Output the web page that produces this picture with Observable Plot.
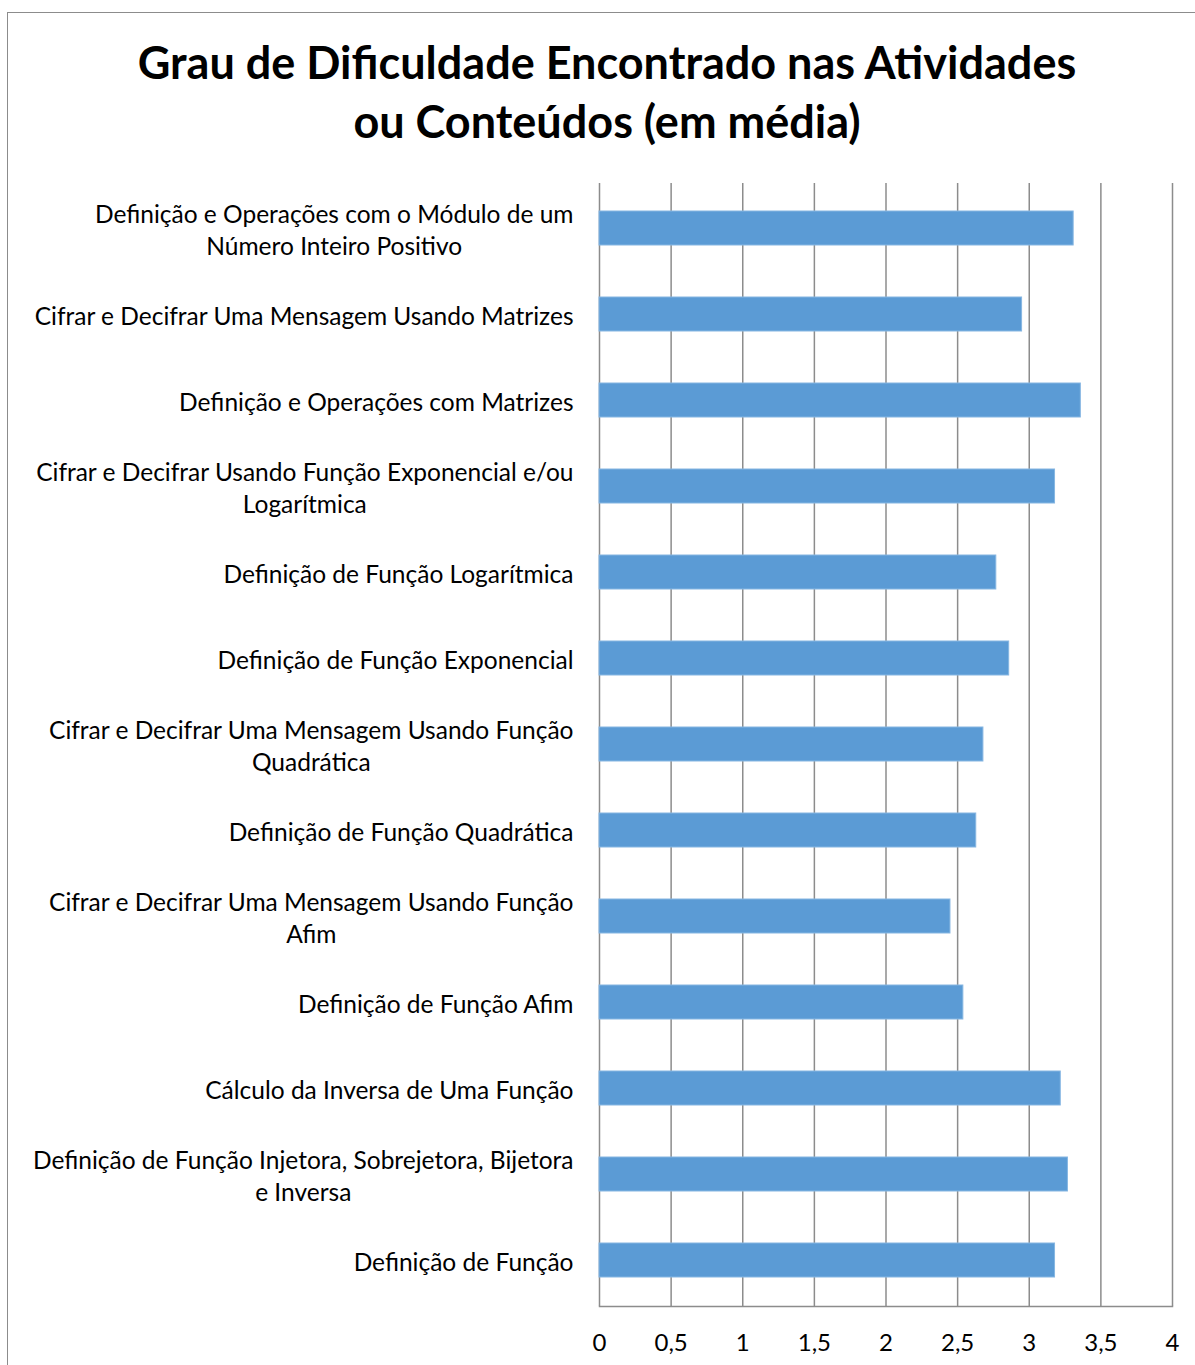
<!DOCTYPE html>
<html><head><meta charset="utf-8">
<script src="https://cdn.jsdelivr.net/npm/d3@7"></script>
<script src="https://cdn.jsdelivr.net/npm/@observablehq/plot@0.6"></script>
<style>
body{margin:0;background:#fff;font-family:Lato,"Open Sans",sans-serif;}
#frame{position:absolute;left:7px;top:12px;width:1200px;height:1365px;border-left:1.5px solid #8c8c8c;border-top:1.5px solid #8c8c8c;box-sizing:border-box;}
#title{position:absolute;left:7px;top:33px;width:1200px;text-align:center;font-weight:bold;font-size:45px;line-height:59px;color:#000;}
#chart{position:absolute;left:8px;top:150px;}
</style></head>
<body>
<div id="frame"></div>
<div id="title">Grau de Dificuldade Encontrado nas Atividades<br>ou Conteúdos (em média)</div>
<div id="chart"></div>
<script>
const categories = [
  "Definição e Operações com o Módulo de um\nNúmero Inteiro Positivo",
  "Cifrar e Decifrar Uma Mensagem Usando Matrizes",
  "Definição e Operações com Matrizes",
  "Cifrar e Decifrar Usando Função Exponencial e/ou\nLogarítmica",
  "Definição de Função Logarítmica",
  "Definição de Função Exponencial",
  "Cifrar e Decifrar Uma Mensagem Usando Função\nQuadrática",
  "Definição de Função Quadrática",
  "Cifrar e Decifrar Uma Mensagem Usando Função\nAfim",
  "Definição de Função Afim",
  "Cálculo da Inversa de Uma Função",
  "Definição de Função Injetora, Sobrejetora, Bijetora\ne Inversa",
  "Definição de Função"
];
const values = [3.31, 2.95, 3.36, 3.18, 2.77, 2.86, 2.68, 2.63, 2.45, 2.54, 3.22, 3.27, 3.18];
const xTicks = [0, 0.5, 1, 1.5, 2, 2.5, 3, 3.5, 4];

const data = categories.map((c, i) => ({category: c, value: values[i]}));
const fmt = d => String(d).replace(".", ",");

const plot = Plot.plot({
  width: 1187,
  height: 1215,
  marginLeft: 591,
  marginRight: 23,
  marginTop: 33,
  marginBottom: 59,
  style: {fontFamily: "Lato, 'Open Sans', sans-serif", fontSize: "24px", color: "#000", background: "transparent", overflow: "visible"},
  x: {domain: [0, 4], ticks: xTicks, label: null},
  y: {domain: categories, paddingInner: 0.6, paddingOuter: 0.3, label: null},
  marks: [
    Plot.ruleX(xTicks, {stroke: "#8c8c8c", strokeWidth: 1.5}),
    Plot.frame({anchor: "bottom", stroke: "#8c8c8c", strokeWidth: 1.5}),
    Plot.barX(data, {x: "value", y: "category", fill: "#5b9bd5", stroke: "#86b6e2", strokeWidth: 1}),
    Plot.axisX(xTicks, {tickSize: 0, tickPadding: 27, tickFormat: fmt, fontSize: 24, fill: "#000", label: null}),
    Plot.axisY({tickSize: 0, tickPadding: 26, fontSize: 24.5, lineHeight: 1.3, fill: "#000", label: null})
  ]
});
document.getElementById("chart").appendChild(plot);

// Excel-style centring of wrapped category labels
plot.querySelectorAll('g[aria-label="y-axis tick label"] text').forEach(t => {
  const spans = t.querySelectorAll("tspan");
  if (spans.length > 1) {
    const w = t.getBBox().width;
    t.setAttribute("text-anchor", "middle");
    spans.forEach(s => s.setAttribute("x", -w / 2));
  }
});
</script>
</body></html>
